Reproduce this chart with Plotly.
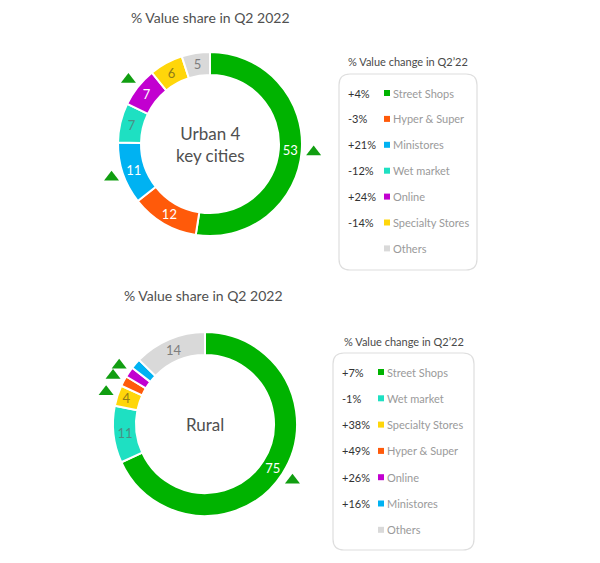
import math
import plotly.graph_objects as go

# ---- data -------------------------------------------------------------
urban_labels = ["Street Shops", "Hyper & Super", "Ministores", "Wet market",
                "Online", "Specialty Stores", "Others"]
urban_values = [53, 12, 11, 7, 7, 6, 5]
urban_changes = ["+4%", "-3%", "+21%", "-12%", "+24%", "-14%", ""]
urban_up = ["Street Shops", "Ministores", "Online"]

rural_labels = ["Street Shops", "Wet market", "Specialty Stores", "Hyper & Super",
                "Online", "Ministores", "Others"]
rural_values = [75, 11, 4, 2, 2, 2, 14]
rural_changes = ["+7%", "-1%", "+38%", "+49%", "+26%", "+16%", ""]
rural_up = ["Street Shops", "Specialty Stores", "Hyper & Super", "Online"]

colors = {
    "Street Shops": "#00b300",
    "Hyper & Super": "#ff5a0a",
    "Ministores": "#00b2f2",
    "Wet market": "#1ee0c2",
    "Online": "#c200d0",
    "Specialty Stores": "#ffd60a",
    "Others": "#d9d9d9",
}
text_colors = {
    "Wet market": "#4a8f84",
    "Specialty Stores": "#8f7c18",
    "Others": "#7d7d7d",
}

W, H = 600, 563
OFF = 8  # page body margin: axis units below equal screen pixels
FONT = "Lato"

fig = go.Figure()


def add_donut(labels, values, cx, cy, r, centre_text, up):
    total = sum(values)
    fig.add_trace(go.Pie(
        labels=labels,
        values=values,
        text=[str(v) if v >= 4 else "" for v in values],
        textinfo="text",
        textposition="inside",
        insidetextorientation="horizontal",
        textfont=dict(family=FONT, size=13,
                      color=[text_colors.get(l, "white") for l in labels]),
        marker=dict(colors=[colors[l] for l in labels],
                    line=dict(color="white", width=2)),
        hole=0.75,
        sort=False,
        direction="clockwise",
        rotation=0,
        showlegend=False,
        hoverinfo="label+value",
        domain=dict(x=[(cx - r - OFF) / W, (cx + r - OFF) / W],
                    y=[1 - (cy + r - OFF) / H, 1 - (cy - r - OFF) / H]),
    ))
    fig.add_annotation(x=cx, y=cy, xref="x", yref="y", text=centre_text,
                       showarrow=False,
                       font=dict(family=FONT, size=17, color="#505050"))
    # growth triangles placed outside the mid angle of each flagged slice
    tx, ty = [], []
    cum = 0
    for l, v in zip(labels, values):
        if l in up:
            a = (cum + v / 2) / total * 2 * math.pi
            tx.append(cx + 1.13 * r * math.sin(a))
            ty.append(cy - 1.13 * r * math.cos(a))
        cum += v
    fig.add_trace(go.Scatter(
        x=tx, y=ty, mode="markers", showlegend=False, hoverinfo="skip",
        marker=dict(symbol="triangle-up", size=13, color="#119e11"),
    ))


def add_title(text, x, y):
    fig.add_annotation(x=x, y=y, xref="x", yref="y", text=text, showarrow=False,
                       font=dict(family=FONT, size=14, color="#505050"))


def add_legend(labels, changes, x0, x1, y0, y1, title_y, row0, step):
    rad = 11
    path = (f"M {x0 + rad} {y0} L {x1 - rad} {y0} Q {x1} {y0} {x1} {y0 + rad} "
            f"L {x1} {y1 - rad} Q {x1} {y1} {x1 - rad} {y1} "
            f"L {x0 + rad} {y1} Q {x0} {y1} {x0} {y1 - rad} "
            f"L {x0} {y0 + rad} Q {x0} {y0} {x0 + rad} {y0} Z")
    fig.add_shape(type="path", path=path, xref="x", yref="y",
                  line=dict(color="#dedede", width=1.2))
    fig.add_annotation(x=(x0 + x1) / 2, y=title_y, xref="x", yref="y",
                       text="% Value change in Q2\u201922", showarrow=False,
                       font=dict(family=FONT, size=11, color="#4a4a4a"))
    ys = [row0 + i * step for i in range(len(labels))]
    for l, c, yy in zip(labels, changes, ys):
        if c:
            fig.add_annotation(x=x0 + 7, y=yy, xref="x", yref="y", text=c,
                               showarrow=False, xanchor="left",
                               font=dict(family=FONT, size=11, color="#333333"))
        fig.add_annotation(x=x0 + 52, y=yy, xref="x", yref="y", text=l,
                           showarrow=False, xanchor="left",
                           font=dict(family=FONT, size=11, color="#9a9a9a"))
    fig.add_trace(go.Scatter(
        x=[x0 + 48] * len(labels), y=ys, mode="markers", showlegend=False,
        hoverinfo="skip",
        marker=dict(symbol="square", size=6, color=[colors[l] for l in labels]),
    ))


add_title("% Value share in Q2 2022", 210, 17)
add_donut(urban_labels, urban_values, 210, 144, 92, "Urban 4<br>key cities", urban_up)
add_legend(urban_labels, urban_changes, 339, 477, 74, 270, 61, 93, 25.9)

add_title("% Value share in Q2 2022", 203, 295)
add_donut(rural_labels, rural_values, 205, 424, 92, "Rural", rural_up)
add_legend(rural_labels, rural_changes, 333, 474, 353, 550, 341, 372, 26.3)

fig.update_layout(
    width=W, height=H,
    margin=dict(l=0, r=0, t=0, b=0),
    paper_bgcolor="white", plot_bgcolor="rgba(0,0,0,0)",
    xaxis=dict(range=[OFF, W + OFF], visible=False, fixedrange=True, domain=[0, 1]),
    yaxis=dict(range=[H + OFF, OFF], visible=False, fixedrange=True, domain=[0, 1]),
    font=dict(family=FONT),
)

fig.write_html("out.html")
